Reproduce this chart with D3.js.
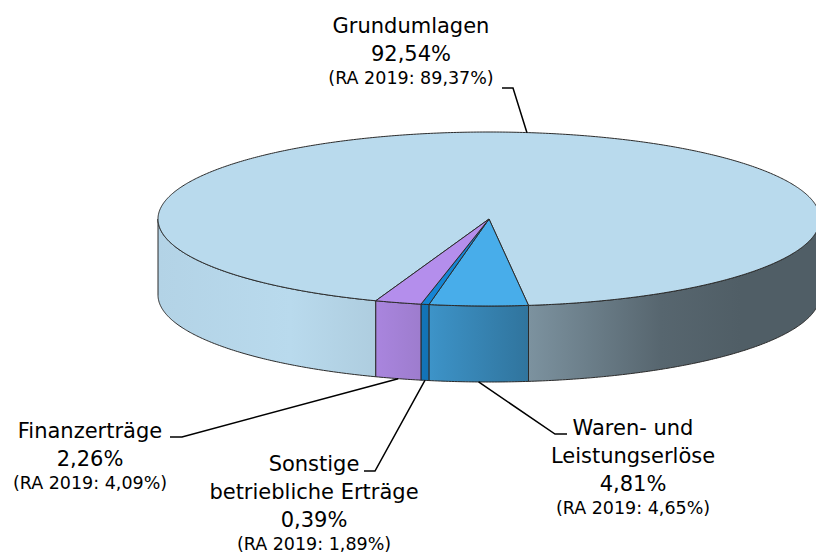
<!DOCTYPE html>
<html>
<head>
<meta charset="utf-8">
<script src="https://cdn.jsdelivr.net/npm/d3@7"></script>
<style>
  body { margin: 0; background: #fff; }
  svg { display: block; }
</style>
</head>
<body>
<svg id="chart"></svg>
<script>
// data
var categories = ["Grundumlagen", "Waren- und Leistungserlöse", "Sonstige betriebliche Erträge", "Finanzerträge"];
var nameLines = [["Grundumlagen"], ["Waren- und", "Leistungserlöse"], ["Sonstige", "betriebliche Erträge"], ["Finanzerträge"]];
var share2020 = [92.54, 4.81, 0.39, 2.26];
var share2019 = [89.37, 4.65, 1.89, 4.09];
var topColors = ["#b9daed", "#48adea", "#1585d4", "#b48eec"];

var width = 816, height = 559;
var cx = 489, cy = 219, rx = 331, ry = 87, depth = 76;

// side shading along x (u = -1 .. 1)
var shade = [[0, 0.97], [0.2, 1.0], [0.33, 0.94], [0.4, 0.87], [0.42, 0.84], [0.56, 0.67], [0.76, 0.47], [0.88, 0.43], [1, 0.43]];

// label layout: text centre, first baseline, leader elbow and stub end
var labelPos = [
  {x: 411, y: 33, elbow: [513, 88], stub: [502, 88]},
  {x: 633, y: 435, elbow: [555, 434], stub: [567, 434]},
  {x: 314, y: 471, elbow: [375, 471], stub: [364, 471]},
  {x: 90, y: 438, elbow: [182, 437], stub: [170, 437]}
];

var locale = d3.formatLocale({decimal: ",", thousands: ".", grouping: [3], currency: ["", "€"]});
var fmt = locale.format(".2f");

var svg = d3.select("#chart").attr("width", width).attr("height", height);
var defs = svg.append("defs");

var rad = Math.PI / 180;
var pie = d3.pie().sort(null).startAngle(200 * rad).endAngle(560 * rad);
var arcs = pie(share2020);

var sx = d3.scaleLinear().domain([-1, 1]).range([cx - rx, cx + rx]);
var sy = d3.scaleLinear().domain([-1, 1]).range([cy - ry, cy + ry]);

function pt(a, dz) {
  return [sx(Math.sin(a)), sy(-Math.cos(a)) + (dz || 0)];
}
function samples(a0, a1) {
  var n = Math.max(2, Math.ceil((a1 - a0) / (0.5 * rad)));
  return d3.range(n + 1).map(function(i) { return a0 + (a1 - a0) * i / n; });
}
var line = d3.line();

// gradients for the side walls
arcs.forEach(function(d, i) {
  var g = defs.append("linearGradient")
    .attr("id", "side" + i)
    .attr("gradientUnits", "userSpaceOnUse")
    .attr("x1", sx(-1)).attr("x2", sx(1)).attr("y1", 0).attr("y2", 0);
  var base = d3.rgb(topColors[i]);
  shade.forEach(function(s) {
    var c = d3.rgb(base.r * s[1], base.g * s[1], base.b * s[1]);
    g.append("stop").attr("offset", s[0]).attr("stop-color", c.formatHex());
  });
});

// side walls (front half only)
var fronts = [[90 * rad, 270 * rad], [450 * rad, 630 * rad]];
var sides = [];
arcs.forEach(function(d, i) {
  fronts.forEach(function(f) {
    var a0 = Math.max(d.startAngle, f[0]), a1 = Math.min(d.endAngle, f[1]);
    if (a1 > a0) sides.push({i: i, a0: a0, a1: a1});
  });
});

svg.append("g").selectAll("path")
  .data(sides)
  .enter()
  .append("path")
  .attr("d", function(s) {
    var a = samples(s.a0, s.a1);
    var topPts = a.map(function(t) { return pt(t, 0); });
    var botPts = a.slice().reverse().map(function(t) { return pt(t, depth); });
    return line(topPts.concat(botPts)) + "Z";
  })
  .attr("fill", function(s) { return "url(#side" + s.i + ")"; })
  .attr("stroke", "#2b2b2b")
  .attr("stroke-width", 1)
  .attr("stroke-linejoin", "round");

// top faces
svg.append("g").selectAll("path")
  .data(arcs)
  .enter()
  .append("path")
  .attr("d", function(d) {
    var pts = [[cx, cy]].concat(samples(d.startAngle, d.endAngle).map(function(t) { return pt(t, 0); }));
    return line(pts) + "Z";
  })
  .attr("fill", function(d, i) { return topColors[i]; })
  .attr("stroke", "#2b2b2b")
  .attr("stroke-width", 1)
  .attr("stroke-linejoin", "round");

// leader lines
function anchor(d) {
  var m = (d.startAngle + d.endAngle) / 2;
  var front = Math.cos(m) < 0;
  return pt(m, front ? depth : 0);
}
svg.append("g").selectAll("path")
  .data(arcs)
  .enter()
  .append("path")
  .attr("d", function(d, i) {
    return line([anchor(d), labelPos[i].elbow, labelPos[i].stub]);
  })
  .attr("fill", "none")
  .attr("stroke", "#000")
  .attr("stroke-width", 1.5);

// labels
var labels = svg.append("g").selectAll("text")
  .data(arcs)
  .enter()
  .append("text")
  .attr("text-anchor", "middle")
  .attr("font-family", "DejaVu Sans, Verdana, sans-serif")
  .attr("fill", "#000")
  .attr("x", function(d, i) { return labelPos[i].x; })
  .attr("y", function(d, i) { return labelPos[i].y; });

labels.each(function(d, i) {
  var t = d3.select(this);
  var x = labelPos[i].x;
  nameLines[i].forEach(function(s, k) {
    t.append("tspan").attr("x", x).attr("dy", k === 0 ? 0 : 28)
      .attr("font-size", "21px").text(s);
  });
  t.append("tspan").attr("x", x).attr("dy", 28)
    .attr("font-size", "21px").text(fmt(share2020[i]) + "%");
  t.append("tspan").attr("x", x).attr("dy", 23)
    .attr("font-size", "17.5px").text("(RA 2019: " + fmt(share2019[i]) + "%)");
});
</script>
</body>
</html>
